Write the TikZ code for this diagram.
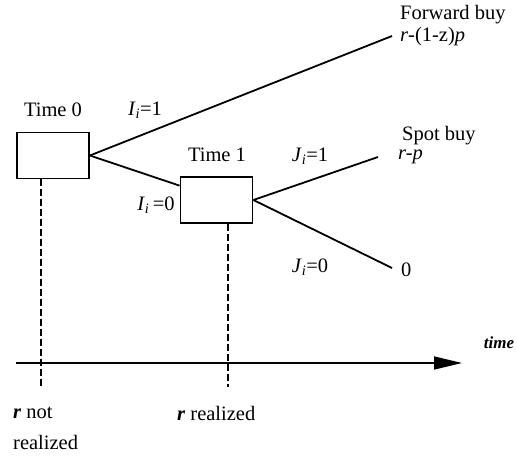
\documentclass[tikz,border=0pt]{standalone}
\usepackage{fontspec}
\setmainfont{Liberation Serif}
\usetikzlibrary{arrows.meta,calc}
\begin{document}
\begin{tikzpicture}[x=1pt,y=-1pt,
  box/.style={draw,line width=1.8pt,minimum width=72pt,minimum height=46pt,inner sep=0pt},
  branch/.style={line width=1.8pt},
  guide/.style={line width=1.5pt,dash pattern=on 7pt off 3pt},
  axisline/.style={line width=1.5pt,-{Triangle[length=28pt,width=13pt]}},
  lbl/.style={font=\fontsize{20.5}{22}\selectfont,inner sep=0pt}]
\useasboundingbox (0,0) rectangle (517,458);
% boxes
\node[box] (b0) at (53,155.5) {};
\node[box] (b1) at (216.5,200) {};
% end points
\coordinate (fwd) at (392,36);
\coordinate (spot) at (378,157);
\coordinate (zero) at (392,268);
\coordinate (b1in) at ($(b1.north west)!0.2!(b1.south west)$);
% branches
\draw[branch] (b0.east) -- (fwd);
\draw[branch] (b0.east) -- (b1in);
\draw[branch] (b1.east) -- (spot);
\draw[branch] (b1.east) -- (zero);
% dashed guides
\coordinate (d0) at (41,387);
\coordinate (d1) at (228,387);
\draw[guide] (d0 |- b0.south) -- (d0);
\draw[guide] (d1 |- b1.south) -- (d1);
% time axis
\coordinate (ax0) at (16,363);
\coordinate (ax1) at (462,363);
\draw[axisline] (ax0) -- (ax1);
% labels
\node[lbl] (t0) at (53,110) {Time 0};
\node[lbl] (i1) at (145,110) {\textit{I}\textsubscript{\textit{i}}=1};
\node[lbl] (t1) at (217,155) {Time 1};
\node[lbl] (i0) at (156,205) {\textit{I}\textsubscript{\textit{i}}\,=0};
\node[lbl,anchor=west] (fb) at (400,15) {Forward buy};
\node[lbl,anchor=west] (fv) at (400,37) {\textit{r}-(1-z)\textit{p}};
\node[lbl,anchor=west] (sb) at (402,136) {Spot buy};
\node[lbl,anchor=west] (sv) at (398,157) {\textit{r-p}};
\node[lbl] (j1) at (310,156) {\textit{J}\textsubscript{\textit{i}}=1};
\node[lbl] (j0) at (310,267) {\textit{J}\textsubscript{\textit{i}}=0};
\node[lbl,anchor=west] (zv) at (401,270) {0};
\node[lbl,font=\fontsize{17}{19}\selectfont] (tm) at (499,343) {\textbf{\textit{time}}};
\node[lbl,anchor=west] (rn) at (13,413) {\textbf{\textit{r}} not};
\node[lbl,anchor=west] (rn2) at (13,442) {realized};
\node[lbl,anchor=west] (rr) at (177,413) {\textbf{\textit{r}} realized};
\end{tikzpicture}
\end{document}
